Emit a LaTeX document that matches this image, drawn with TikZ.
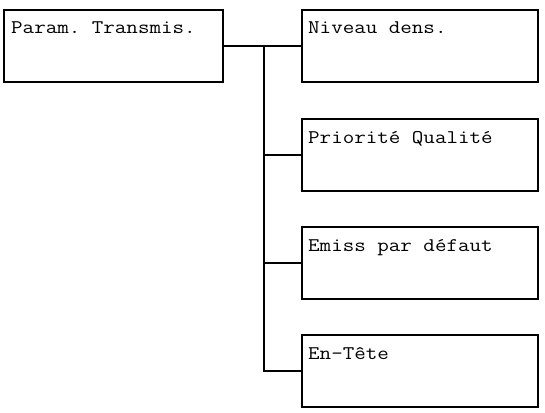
\documentclass[tikz,border=0pt]{standalone}
\usepackage{fontspec}
\setmonofont{Latin Modern Mono}[FakeStretch=1.16]
\begin{document}
\begin{tikzpicture}[x=1pt,y=-1pt,
  box/.style={draw, line width=2pt, minimum width=#1, minimum height=72pt, inner sep=0pt, outer sep=0pt, anchor=north west},
  lbl/.style={anchor=base west, inner sep=0pt, font=\ttfamily\fontsize{19.3}{20}\selectfont},
  conn/.style={line width=2pt}]
\useasboundingbox (0,0) rectangle (545,412);
\node[box=219pt] (p) at (4,10) {};
\node[box=236pt] (a) at (302,10) {};
\node[box=236pt] (b) at (302,119) {};
\node[box=236pt] (c) at (302,227) {};
\node[box=236pt] (d) at (302,335) {};
\node[lbl] (tp) at ([shift={(7,24)}]p.north west) {Param. Transmis.};
\node[lbl] (ta) at ([shift={(6,24)}]a.north west) {Niveau dens.};
\node[lbl] (tb) at ([shift={(6,24)}]b.north west) {Priorité Qualité};
\node[lbl] (tc) at ([shift={(6,24)}]c.north west) {Emiss par défaut};
\node[lbl] (td) at ([shift={(6,24)}]d.north west) {En-Tête};
\coordinate (j) at (264,46);
\draw[conn] (p.east) -- (a.west);
\draw[conn] (j) |- (d.west);
\draw[conn] (j |- b.west) -- (b.west);
\draw[conn] (j |- c.west) -- (c.west);
\end{tikzpicture}
\end{document}
